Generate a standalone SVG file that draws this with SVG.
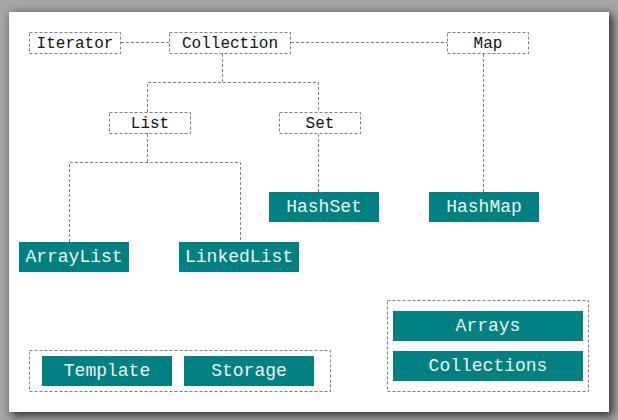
<svg xmlns="http://www.w3.org/2000/svg" width="618" height="420" viewBox="0 0 618 420">
  <defs>
    <filter id="shadow" x="-10%" y="-10%" width="120%" height="120%">
      <feGaussianBlur stdDeviation="5"/>
    </filter>
    <style>
      .dash { fill: none; stroke: #808080; stroke-width: 1; stroke-dasharray: 3 2; }
      .iface { fill: #ffffff; stroke: #808080; stroke-width: 1; stroke-dasharray: 3 2; }
      .cls { fill: #008080; }
      .t1 { font-family: "Liberation Mono", "Courier New", monospace; font-size: 16px; fill: #111111; text-anchor: middle; }
      .t2 { font-family: "Liberation Mono", "Courier New", monospace; font-size: 18px; fill: #eaf6f6; text-anchor: middle; }
    </style>
  </defs>

  <rect x="0" y="0" width="618" height="420" fill="#a6a6a6"/>
  <rect x="11" y="14" width="602" height="402" fill="#000000" opacity="0.7" filter="url(#shadow)"/>
  <rect x="9" y="12" width="600" height="400" fill="#ffffff"/>

  <g id="connectors">
    <path class="dash" d="M121 42.5 H169"/>
    <path class="dash" d="M291 42.5 H447"/>
    <path class="dash" d="M222.5 54 V82.5"/>
    <path class="dash" d="M147.5 112 V82.5 H318.5 V112"/>
    <path class="dash" d="M147.5 134 V162.5"/>
    <path class="dash" d="M69.5 242 V162.5 H240.5 V242"/>
    <path class="dash" d="M318.5 134 V192"/>
    <path class="dash" d="M483.5 54 V192"/>
  </g>

  <g id="node-iterator">
    <rect class="iface" x="29.5" y="32.5" width="91" height="21"/>
    <text class="t1" x="75" y="47.5">Iterator</text>
  </g>
  <g id="node-collection">
    <rect class="iface" x="169.5" y="32.5" width="121" height="21"/>
    <text class="t1" x="230" y="47.5">Collection</text>
  </g>
  <g id="node-map">
    <rect class="iface" x="447.5" y="32.5" width="81" height="21"/>
    <text class="t1" x="488" y="47.5">Map</text>
  </g>
  <g id="node-list">
    <rect class="iface" x="109.5" y="112.5" width="81" height="21"/>
    <text class="t1" x="150" y="127.5">List</text>
  </g>
  <g id="node-set">
    <rect class="iface" x="279.5" y="112.5" width="81" height="21"/>
    <text class="t1" x="320" y="127.5">Set</text>
  </g>

  <g id="node-hashset">
    <rect class="cls" x="269" y="192" width="110" height="30"/>
    <text class="t2" x="324" y="212">HashSet</text>
  </g>
  <g id="node-hashmap">
    <rect class="cls" x="429" y="192" width="110" height="30"/>
    <text class="t2" x="484" y="212">HashMap</text>
  </g>
  <g id="node-arraylist">
    <rect class="cls" x="19" y="242" width="110" height="30"/>
    <text class="t2" x="74" y="262">ArrayList</text>
  </g>
  <g id="node-linkedlist">
    <rect class="cls" x="179" y="242" width="120" height="30"/>
    <text class="t2" x="239" y="262">LinkedList</text>
  </g>

  <g id="group-left">
    <rect class="dash" x="29.5" y="350.5" width="301" height="41"/>
    <g id="node-template">
      <rect class="cls" x="42" y="356" width="130" height="30"/>
      <text class="t2" x="107" y="376">Template</text>
    </g>
    <g id="node-storage">
      <rect class="cls" x="184" y="356" width="130" height="30"/>
      <text class="t2" x="249" y="376">Storage</text>
    </g>
  </g>

  <g id="group-right">
    <rect class="dash" x="387.5" y="300.5" width="201" height="91"/>
    <g id="node-arrays">
      <rect class="cls" x="393" y="311" width="190" height="30"/>
      <text class="t2" x="488" y="331">Arrays</text>
    </g>
    <g id="node-collections">
      <rect class="cls" x="393" y="351" width="190" height="30"/>
      <text class="t2" x="488" y="371">Collections</text>
    </g>
  </g>
</svg>
